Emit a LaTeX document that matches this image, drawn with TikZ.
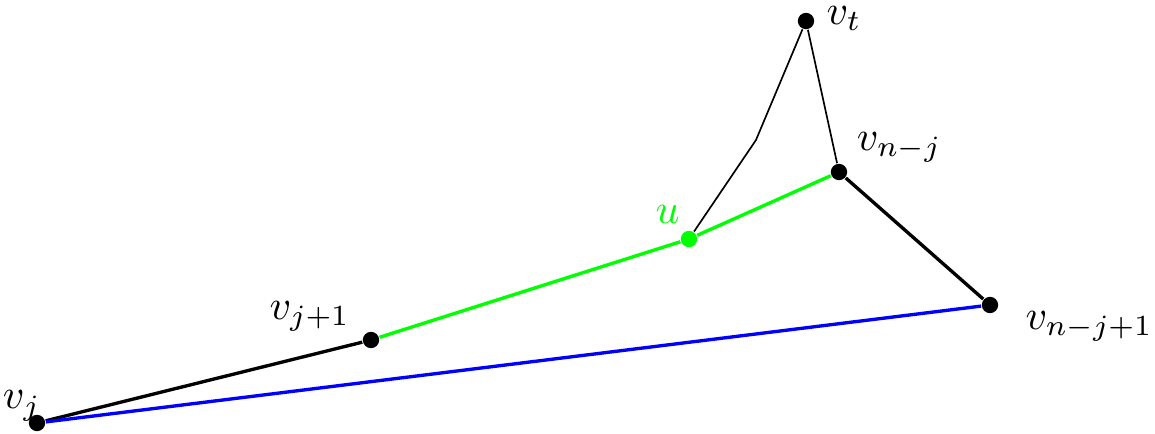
\documentclass[tikz,border=0pt]{standalone}
\usepackage{amsmath}
\usetikzlibrary{positioning}

\begin{document}
\begin{tikzpicture}[x=0.84cm, y=-0.84cm]
\tikzstyle{dot}=[%
circle, fill, inner sep=0pt,
minimum size=3.9pt
]
\tikzstyle{lbl}=[inner sep=0pt]
   \useasboundingbox (0,0) rectangle (11.55,4.34);
   \node[dot] (vj) at (0.37,4.23) {};
   \node[dot] (vj1) at (3.71,3.40) {};
   \node[dot, green] (u) at (6.89,2.39) {};
   \node[dot] (vnj) at (8.39,1.72) {};
   \node[dot] (vnj1) at (9.90,3.05) {};
   \node[dot] (vt) at (8.06,0.21) {};
   \coordinate (bend) at (7.56,1.40);
   % labels
   \node[lbl, above left=2.6pt and 2.1pt of vj, anchor=center] (lvj) {$v_j$};
   \node[lbl, above left=4.1pt and 13.1pt of vj1, anchor=center] (lvj1) {$v_{j+1}$};
   \node[lbl, above left=4.3pt and 3.6pt of u, anchor=center, text=green] (lu) {$u$};
   \node[lbl, above right=4.3pt and 12.9pt of vnj, anchor=center] (lvnj) {$v_{n-j}$};
   \node[lbl, below right=3.6pt and 22.2pt of vnj1, anchor=center] (lvnj1) {$v_{n-j+1}$};
   \node[lbl, above right=-1pt and 7.6pt of vt, anchor=center] (lvt) {$v_t$};
   % edges
   \draw[thin] (u) -- (bend) -- (vt) -- (vnj);
   \draw[thick] (vj) -- (vj1);
   \draw[thick] (vnj) -- (vnj1);
   \draw[thick, green] (vj1) -- (u) -- (vnj);
   \draw[thick, blue] (vnj1) -- (vj);
\end{tikzpicture}
\end{document}
